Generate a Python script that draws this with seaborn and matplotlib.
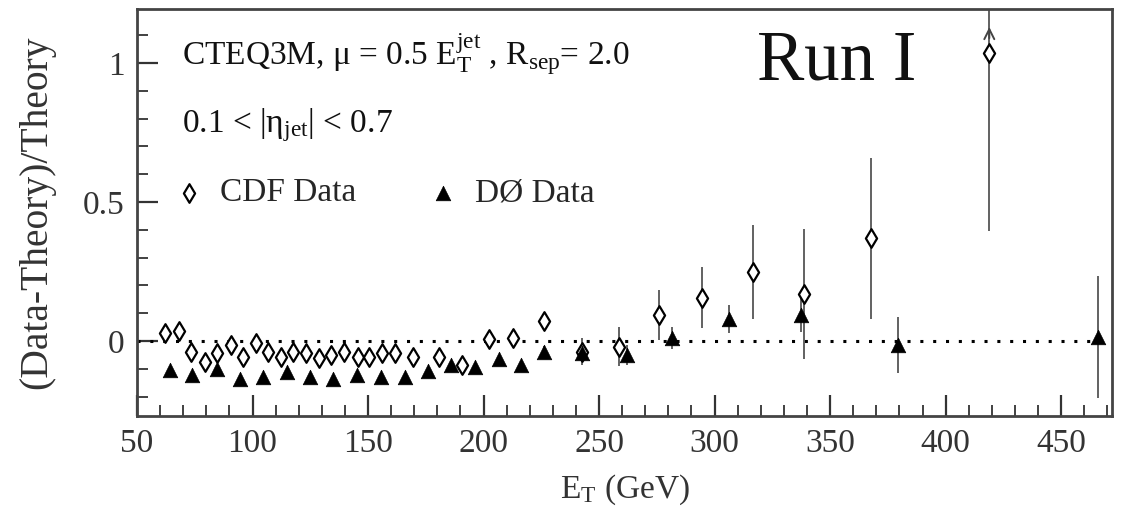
import numpy as np
import pandas as pd
import matplotlib
matplotlib.use("Agg")
import matplotlib.pyplot as plt
import seaborn as sns
from matplotlib.ticker import MultipleLocator

# CDF inclusive jet data, 0.1 < |eta| < 0.7
cdf_et = [61.9, 68.1, 73.4, 79.6, 84.5, 90.5, 95.8, 101.3, 106.6, 112.4,
          117.7, 123.2, 128.7, 134.0, 139.8, 145.5, 150.6, 156.1, 161.7, 169.3,
          180.9, 190.7, 202.2, 212.9, 226.3, 242.6, 258.8, 276.0, 294.6, 316.8,
          338.8, 367.7, 418.9]
cdf_ratio = [0.028, 0.037, -0.038, -0.074, -0.042, -0.014, -0.056, -0.008, -0.038, -0.056,
             -0.038, -0.044, -0.062, -0.050, -0.038, -0.059, -0.056, -0.042, -0.042, -0.056,
             -0.056, -0.086, 0.006, 0.010, 0.073, -0.038, -0.020, 0.094, 0.156, 0.249,
             0.169, 0.369, 1.035]
cdf_err = [0.01, 0.01, 0.01, 0.01, 0.01, 0.01, 0.01, 0.01, 0.01, 0.01,
           0.01, 0.01, 0.01, 0.01, 0.01, 0.01, 0.01, 0.01, 0.01, 0.012,
           0.015, 0.015, 0.02, 0.02, 0.025, 0.05, 0.07, 0.09, 0.11, 0.17,
           0.235, 0.29, 0.64]

# D0 inclusive jet data
d0_et = [64.1, 73.9, 84.5, 94.6, 104.4, 114.8, 124.9, 135.0, 145.3, 155.7,
         165.8, 175.8, 186.0, 196.5, 206.6, 216.2, 226.3, 242.6, 262.0, 281.7,
         306.4, 337.4, 379.2, 465.8]
d0_ratio = [-0.104, -0.122, -0.102, -0.138, -0.131, -0.110, -0.131, -0.138, -0.122, -0.131,
            -0.131, -0.107, -0.086, -0.092, -0.066, -0.086, -0.038, -0.044, -0.050, 0.010,
            0.078, 0.094, -0.014, 0.015]
d0_err = [0.01, 0.01, 0.01, 0.01, 0.01, 0.01, 0.01, 0.01, 0.01, 0.01,
          0.01, 0.01, 0.012, 0.012, 0.015, 0.015, 0.02, 0.03, 0.035, 0.04,
          0.05, 0.06, 0.10, 0.22]

x_ticks = [50, 100, 150, 200, 250, 300, 350, 400, 450]
y_ticks = [0, 0.5, 1]
y_ticklabels = ["0", "0.5", "1"]

cdf = pd.DataFrame({"et": cdf_et, "ratio": cdf_ratio, "err": cdf_err})
d0 = pd.DataFrame({"et": d0_et, "ratio": d0_ratio, "err": d0_err})

sns.set_theme(style="ticks")
plt.rcParams["font.family"] = ["Liberation Serif", "DejaVu Serif"]
plt.rcParams["mathtext.fontset"] = "custom"
plt.rcParams["mathtext.rm"] = "Liberation Serif"
plt.rcParams["mathtext.it"] = "Liberation Serif:italic"

fig = plt.figure(figsize=(11.37, 5.12), dpi=100)
ax = fig.add_axes([0.1205, 0.1875, 0.8575, 0.795])

ax.set_xlim(50, 472)
ax.set_ylim(-0.27, 1.195)

# zero reference
ax.axhline(0, color="black", lw=2.2, ls=(0, (1, 3.2)), zorder=1)

# error bars
err_kw = dict(fmt="none", ecolor="#555555", elinewidth=1.3, capsize=0, zorder=2)
ax.errorbar(cdf["et"], cdf["ratio"], yerr=cdf["err"], **err_kw)
ax.errorbar(d0["et"], d0["ratio"], yerr=d0["err"], **err_kw)

sns.scatterplot(data=cdf, x="et", y="ratio", marker="d", s=90, facecolor="white",
                edgecolor="black", linewidth=1.6, ax=ax, zorder=3, label="CDF Data")
sns.scatterplot(data=d0, x="et", y="ratio", marker="^", s=110, color="black",
                edgecolor="black", linewidth=0.5, ax=ax, zorder=3, label="D\u00d8 Data")

# off-scale upper error on the highest CDF point
top = cdf.iloc[-1]
ax.annotate("", xy=(top["et"], 1.14), xytext=(top["et"], 1.08),
            arrowprops=dict(arrowstyle="->", color="#444444", lw=1.4,
                            mutation_scale=18), zorder=2)

ax.set_xticks(x_ticks)
ax.set_yticks(y_ticks)
ax.set_yticklabels(y_ticklabels)
ax.xaxis.set_minor_locator(MultipleLocator(10))
ax.yaxis.set_minor_locator(MultipleLocator(0.1))
ax.tick_params(which="both", direction="in", top=False, right=False,
               labelsize=24, labelcolor="#333333", color="#333333", pad=9)
ax.tick_params(which="major", length=15, width=1.6)
ax.tick_params(which="minor", length=8, width=1.3)
for sp in ax.spines.values():
    sp.set_color("#444444")
    sp.set_linewidth(2.0)

ax.set_xlabel("E$_\\mathrm{T}$ (GeV)", fontsize=24, color="#333333", labelpad=10)
ax.set_ylabel("(Data-Theory)/Theory", fontsize=28.5, color="#333333", labelpad=20)

ax.text(0.046, 0.862, "CTEQ3M, \u03bc = 0.5 E$_\\mathrm{T}^\\mathrm{jet}$ , R$_\\mathrm{sep}$= 2.0",
        transform=ax.transAxes, fontsize=24, color="#111111", va="baseline")
ax.text(0.046, 0.698, "0.1 < |\u03b7$_\\mathrm{jet}$| < 0.7",
        transform=ax.transAxes, fontsize=24, color="#111111", va="baseline")
ax.text(0.636, 0.826, "Run I", transform=ax.transAxes, fontsize=51,
        color="#111111", va="baseline")

ax.legend(loc="upper left", bbox_to_anchor=(0.036, 0.585), ncol=2, frameon=False,
          fontsize=24, handletextpad=0.45, columnspacing=2.1, handlelength=1.0,
          borderaxespad=0, borderpad=0)

fig.savefig("out.png", dpi=100)
